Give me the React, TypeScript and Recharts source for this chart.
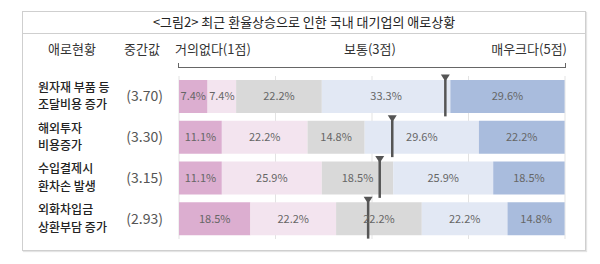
import React from 'react';
import { ComposedChart, Bar, Scatter, XAxis, YAxis, CartesianGrid, LabelList } from 'recharts';

const issues = ['원자재 부품 등\n조달비용 증가', '해외투자\n비용증가', '수입결제시\n환차손 발생', '외화차입금\n상환부담 증가'];
const medians = [3.7, 3.3, 3.15, 2.93];
// where the marker sits on the 1-5 scale
const markerScores = [3.76, 3.21, 3.08, 2.96];

// share of answers (%) per level: 1점 ... 5점
const level1 = [7.4, 11.1, 11.1, 18.5];
const level2 = [7.4, 22.2, 25.9, 22.2];
const level3 = [22.2, 14.8, 18.5, 22.2];
const level4 = [33.3, 29.6, 25.9, 22.2];
const level5 = [29.6, 22.2, 18.5, 14.8];

const levelColors = ['#dcaed0', '#f3e4ef', '#d9d9d9', '#e2e8f4', '#a9bcdd'];
const FONT = "'Noto Sans CJK KR', 'Noto Sans', sans-serif";

const data = issues.map((name, i) => ({
  name,
  l1: level1[i],
  l2: level2[i],
  l3: level3[i],
  l4: level4[i],
  l5: level5[i],
  marker: markerScores[i],
}));

const IssueTick = (props: any) => {
  const { y, payload, index } = props;
  const i = payload?.index ?? index;
  const lines = String(payload.value).split('\n');
  return (
    <g>
      <text fill="#222" fontSize={12} fontWeight={500} fontFamily={FONT}>
        <tspan x={38} y={y - 4.5}>{lines[0]}</tspan>
        <tspan x={38} dy={17.6}>{lines[1]}</tspan>
      </text>
      <text x={163} y={y + 5} fill="#555" fontSize={14} fontFamily={FONT} textAnchor="end">
        ({medians[i].toFixed(2)})
      </text>
    </g>
  );
};

const MedianMarker = (props: any) => {
  const { cx, cy } = props;
  if (cx == null || cy == null) return null;
  return (
    <g>
      <line x1={cx} x2={cx} y1={cy - 17} y2={cy + 20} stroke="#555" strokeWidth={2.5} />
      <path d={`M${cx - 4.5},${cy - 22} L${cx + 4.5},${cy - 22} L${cx},${cy - 15} Z`} fill="#555" />
    </g>
  );
};

const pct = (v: any) => `${v}%`;

const headStyle: React.CSSProperties = {
  position: 'absolute',
  top: 40,
  fontSize: 13,
  color: '#333',
  fontFamily: FONT,
  whiteSpace: 'nowrap',
  lineHeight: '18px',
};

export default function App() {
  const keys = ['l1', 'l2', 'l3', 'l4', 'l5'];
  return (
    <div style={{ position: 'absolute', left: 0, top: 0, width: 600, height: 264, background: '#fff', fontFamily: FONT }}>
      <div style={{ position: 'absolute', left: 22, top: 11, width: 562, height: 238, border: '1px solid #cfcfcf', boxShadow: '1px 1px 1px #e4e4e4' }} />
      <div style={{ position: 'absolute', left: 23, top: 33, width: 562, height: 1, background: '#cfcfcf' }} />
      <div style={{ position: 'absolute', left: 22, width: 564, top: 13, textAlign: 'center', fontSize: 13, color: '#222', lineHeight: '18px' }}>
        &lt;그림2&gt; 최근 환율상승으로 인한 국내 대기업의 애로상황
      </div>
      <span style={{ ...headStyle, left: 72, transform: 'translateX(-50%)' }}>애로현황</span>
      <span style={{ ...headStyle, left: 142, transform: 'translateX(-50%)' }}>중간값</span>
      <span style={{ ...headStyle, left: 175 }}>거의없다(1점)</span>
      <span style={{ ...headStyle, left: 370, transform: 'translateX(-50%)' }}>보통(3점)</span>
      <span style={{ ...headStyle, left: 567, transform: 'translateX(-100%)' }}>매우크다(5점)</span>
      <div style={{ position: 'absolute', left: 178, top: 63, width: 386, height: 4, borderLeft: '1.5px solid #666', borderRight: '1.5px solid #666', borderBottom: '1.5px solid #666' }} />

      <div style={{ position: 'absolute', left: 0, top: 0 }}>
        <ComposedChart
          width={600}
          height={264}
          layout="vertical"
          data={data}
          margin={{ top: 76, right: 35, bottom: 25, left: 0 }}
        >
          <CartesianGrid xAxisId="pct" horizontal={false} stroke="#e3e3e3" />
          <XAxis xAxisId="pct" type="number" domain={[0, 100]} hide />
          <XAxis xAxisId="score" type="number" dataKey="marker" domain={[1, 5]} hide />
          <YAxis
            type="category"
            dataKey="name"
            width={179}
            interval={0}
            axisLine={false}
            tickLine={false}
            tick={<IssueTick />}
          />
          {keys.map((k, i) => (
            <Bar key={k} xAxisId="pct" dataKey={k} stackId="a" fill={levelColors[i]} barSize={33} isAnimationActive={false}>
              <LabelList dataKey={k} position="center" formatter={pct} fill="#666" fontSize={11} fontFamily={FONT} />
            </Bar>
          ))}
          <Scatter xAxisId="score" dataKey="marker" shape={<MedianMarker />} isAnimationActive={false} />
        </ComposedChart>
      </div>
    </div>
  );
}
